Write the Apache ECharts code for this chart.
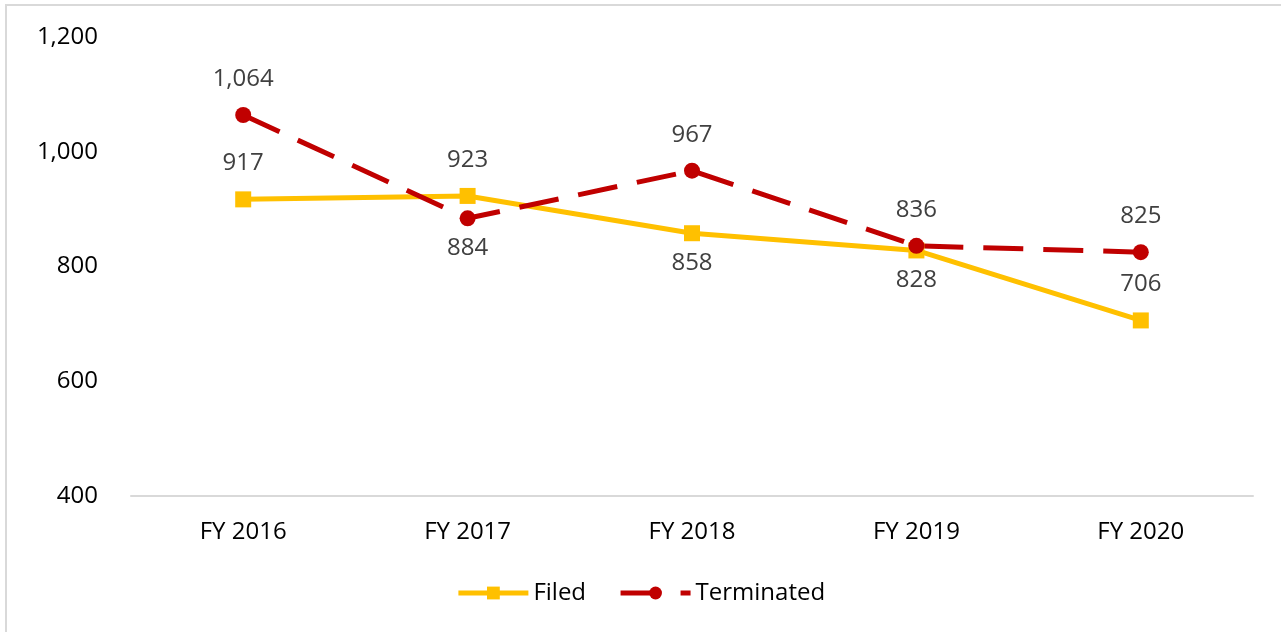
<!DOCTYPE html>
<html lang="en">
<head>
    <meta charset="UTF-8">
    <title>Filed vs Terminated</title>
    <script src="https://cdn.jsdelivr.net/npm/echarts@6/dist/echarts.min.js"></script>
    <style>
        html, body { margin: 0; padding: 0; background: #fff; }
        #chart1 { width: 1281px; height: 632px; }
    </style>
</head>
<body>
<div id="chart1"></div>
<script type="text/javascript">
    var years = ['FY 2016', 'FY 2017', 'FY 2018', 'FY 2019', 'FY 2020'];
    var filed = [917, 923, 858, 828, 706];
    var terminated = [1064, 884, 967, 836, 825];
    // where each value label sits relative to its point
    var filedLabelPos = ['top', 'top', 'bottom', 'bottom', 'top'];
    var termLabelPos = ['top', 'bottom', 'top', 'top', 'top'];

    var font = '"Open Sans", "Noto Sans", sans-serif';

    function fmt(v) {
        return String(v).replace(/\B(?=(\d{3})+(?!\d))/g, ',');
    }

    function withLabels(values, positions) {
        return values.map(function (v, i) {
            return {
                value: v,
                label: { position: positions[i], distance: positions[i] == 'top' ? 16 : 10 }
            };
        });
    }

    var myChart1 = echarts.init(document.getElementById('chart1'));
    myChart1.setOption({
        animation: false,
        graphic: [{
            type: 'rect',
            shape: { x: 6, y: 5, width: 1300, height: 700 },
            style: { fill: 'none', stroke: '#d9d9d9', lineWidth: 2 }
        }],
        grid: { left: 131, right: 28, top: 37, bottom: 136 },
        legend: {
            bottom: 22,
            left: 'center',
            itemWidth: 70,
            itemHeight: 16,
            itemGap: 32,
            lineStyle: { width: 5 },
            textStyle: { fontFamily: font, fontSize: 24, color: '#000' },
            data: ['Filed', 'Terminated']
        },
        xAxis: {
            type: 'category',
            data: years,
            axisLine: { lineStyle: { color: '#d9d9d9', width: 2 } },
            axisTick: { show: false },
            axisLabel: { fontFamily: font, fontSize: 24, color: '#000', margin: 24 }
        },
        yAxis: {
            type: 'value',
            min: 400,
            max: 1200,
            interval: 200,
            splitLine: { show: false },
            axisLine: { show: false },
            axisTick: { show: false },
            axisLabel: { fontFamily: font, fontSize: 24, color: '#000', margin: 33, formatter: fmt }
        },
        series: [{
            name: 'Filed',
            type: 'line',
            data: withLabels(filed, filedLabelPos),
            symbol: 'rect',
            symbolSize: 16,
            lineStyle: { color: '#ffc000', width: 5 },
            itemStyle: { color: '#ffc000' },
            label: {
                show: true, fontFamily: font, fontSize: 24, color: '#404040',
                formatter: function (p) { return fmt(p.value); }
            }
        }, {
            name: 'Terminated',
            type: 'line',
            data: withLabels(terminated, termLabelPos),
            symbol: 'circle',
            symbolSize: 16,
            lineStyle: { color: '#c00000', width: 5, type: [40, 20] },
            itemStyle: { color: '#c00000' },
            label: {
                show: true, fontFamily: font, fontSize: 24, color: '#404040',
                formatter: function (p) { return fmt(p.value); }
            }
        }]
    });
</script>
</body>
</html>
